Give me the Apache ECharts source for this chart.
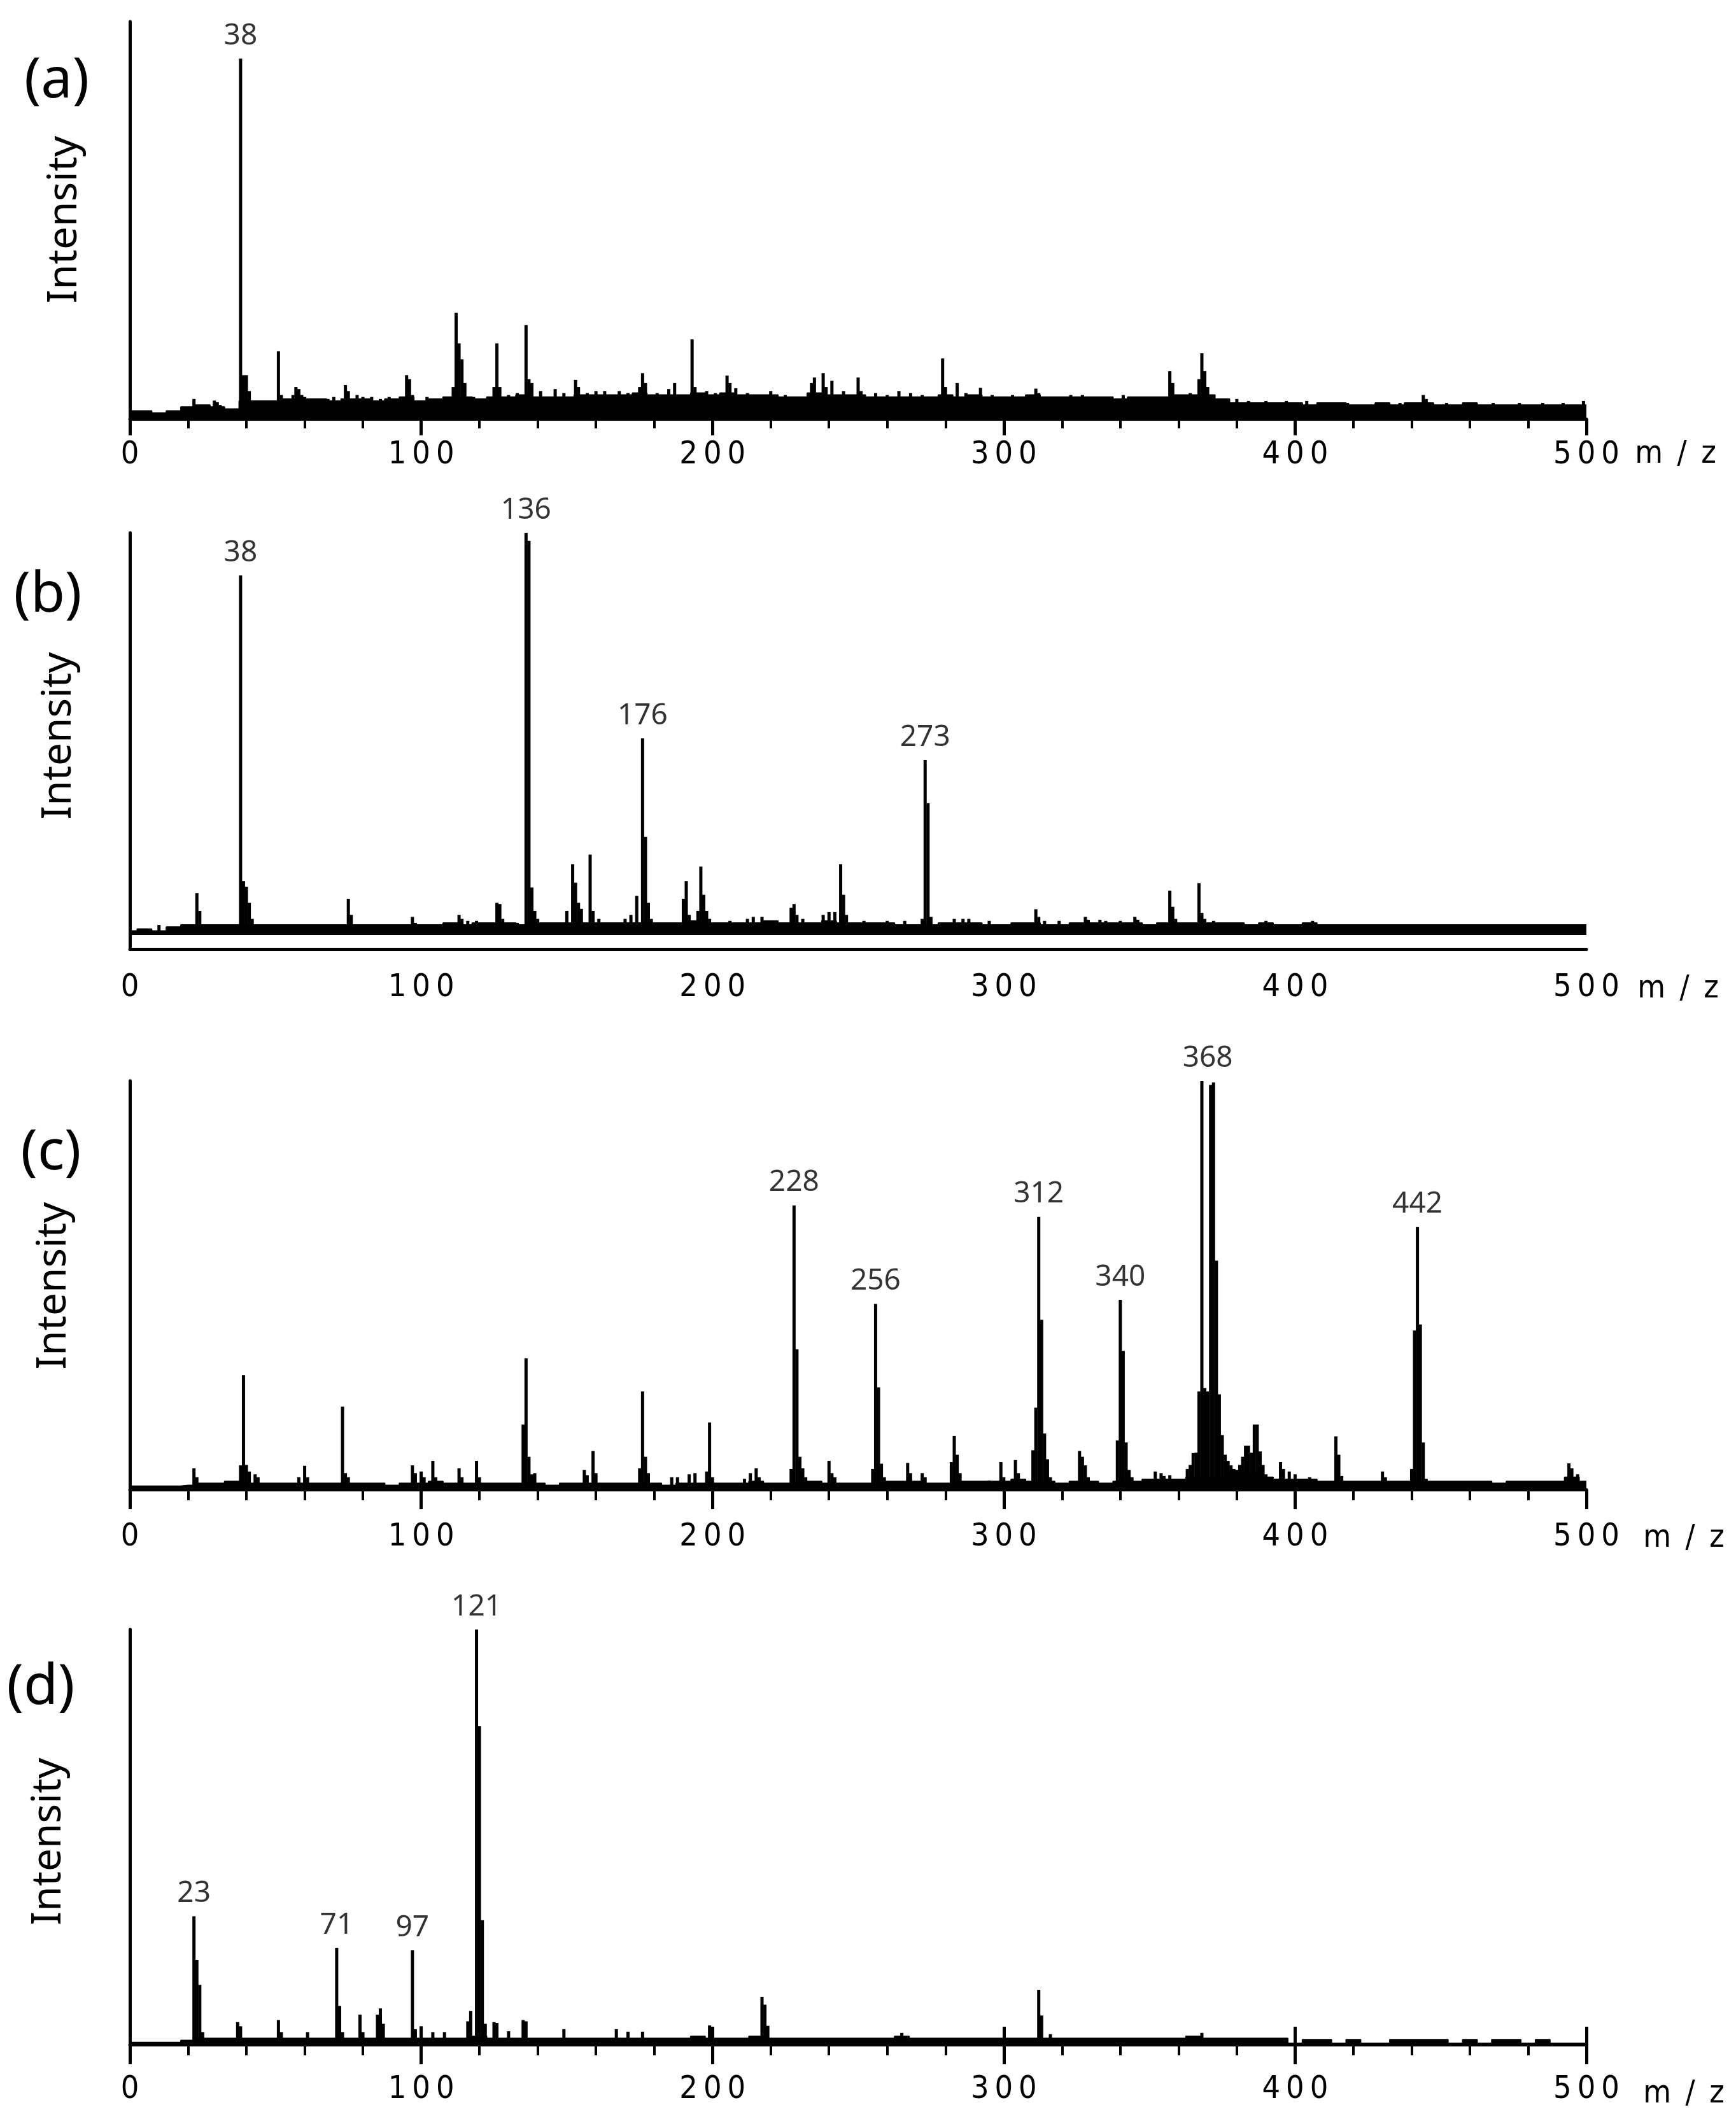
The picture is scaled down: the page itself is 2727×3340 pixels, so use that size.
<!DOCTYPE html>
<html>
<head>
<meta charset="utf-8">
<title>Mass spectra (a)-(d)</title>
<script src="https://cdn.jsdelivr.net/npm/echarts@6/dist/echarts.min.js"></script>
<style>
    html, body { margin: 0; padding: 0; background: #fff; }
    #chart { width: 2727px; height: 3340px; }
</style>
</head>
<body>
<div id="chart"></div>
<script>
// m/z axis
var mzMin = 0, mzMax = 500, mzStep = 100;
// baseline noise levels are read every 5 m/z
var noiseStep = 5;

// (a)
var peaksA = [
    [22, 5], [23, 3.5], [29, 4.6], [30, 4.2], [31, 3.5],
    [38, 90.7], [39, 11], [40, 11], [41, 7], [42, 4.5],
    [51, 17], [52, 6], [56, 6], [57, 8], [58, 7.5], [59, 6], [60, 5.5],
    [68, 5], [70, 5.5], [74, 8.5], [75, 7], [78, 6], [80, 5.5], [83, 5.5], [86, 5], [89, 5.5],
    [95, 11], [96, 10], [97, 6], [102, 5.5], [105, 5], [108, 5.5],
    [111, 8], [112, 26.7], [113, 19], [114, 15], [115, 9], [118, 5.5],
    [125, 8], [126, 19], [127, 8], [130, 6], [133, 6.5],
    [136, 23.6], [137, 10], [138, 9], [141, 7], [146, 7.5], [149, 6.5],
    [153, 9.8], [154, 8], [157, 6.5], [160, 7], [163, 7], [168, 7], [171, 6.5],
    [175, 8], [176, 11.5], [177, 9], [181, 6.5], [185, 7.5], [187, 9], [189, 6],
    [193, 20], [194, 8], [198, 7], [201, 6.5],
    [205, 10.9], [206, 9], [208, 7.7], [212, 6.5], [216, 6], [220, 7], [225, 6], [229, 5.5],
    [234, 9], [235, 10.4], [238, 11.5], [239, 8], [241, 9.6], [245, 7],
    [250, 10.4], [251, 7], [256, 6.5], [260, 6], [264, 7], [268, 6.5], [272, 6],
    [279, 15.2], [280, 8], [284, 9], [287, 6.5], [292, 7.8], [296, 6],
    [303, 6], [308, 6], [311, 7.6], [312, 6.5], [318, 5.5], [323, 6], [327, 6], [333, 5.5],
    [337, 5.5], [341, 6], [346, 5.5], [350, 5.5],
    [357, 12], [358, 9], [359, 6], [364, 6.5], [367, 10], [368, 16.5], [369, 12], [370, 8], [372, 6],
    [380, 5], [384, 4.5], [390, 4.5], [397, 4.5], [404, 4.5], [411, 4], [418, 4], [428, 4],
    [436, 4], [444, 6], [445, 5], [452, 4], [460, 4], [468, 4], [477, 4], [485, 4], [492, 4], [499, 4.5]
];
var noiseA = [
    2, 2, 1.5, 2, 3, 3.5, 3, 2.5, 4.5, 4.5,
    4.5, 5, 5, 5, 4.5, 5, 5, 4.5, 5, 5.5,
    4.5, 5, 5.5, 5.5, 5, 5.5, 5.5, 6, 5.5, 5.5,
    5.5, 6, 6, 6, 6, 6.5, 6, 6, 6, 6.5,
    6, 6.5, 6, 6, 6, 5.5, 5.5, 6.5, 6, 6,
    6, 5.5, 5.5, 5.5, 5.5, 5.5, 6, 5.5, 6, 5.5,
    5.5, 5.5, 6, 5.5, 5.5, 5.5, 5.5, 5.5, 5, 5.5,
    5.5, 5.5, 6, 6, 6, 5, 4, 4, 4, 4,
    4, 3.5, 4, 4, 3.5, 3.5, 4, 3.5, 4, 4,
    3.5, 3.5, 4, 3.5, 3.5, 3.5, 3.5, 3.5, 3.5, 3.5,
    3.5
];
var labelsA = [[38, 90.7, "38"]];

// (b)
var peaksB = [
    [10, 2.5], [23, 10.4], [24, 6], [38, 89.4], [39, 13.4], [40, 12], [41, 8], [42, 4],
    [75, 9], [76, 5], [97, 4.5], [98, 3], [113, 5], [114, 4], [116, 3.5], [119, 3.5],
    [126, 8], [127, 7.7], [128, 4], [133, 3],
    [136, 100], [137, 98], [138, 11.8], [139, 6], [140, 4],
    [150, 6], [152, 17.6], [153, 13], [154, 8], [155, 6.5], [158, 20], [159, 6], [161, 4],
    [170, 4], [172, 5], [174, 9.7], [176, 48.9], [177, 24.4], [178, 8], [179, 4],
    [190, 9], [191, 13.4], [192, 5], [195, 6], [196, 17], [197, 10], [198, 6], [199, 4],
    [206, 3.5], [212, 4], [214, 4.5], [217, 4.5], [227, 6.8], [228, 7.7], [229, 5], [231, 4],
    [238, 5], [240, 5.7], [242, 5.7], [244, 17.6], [245, 10], [246, 5], [252, 3.5], [260, 3.5], [266, 3.5],
    [272, 4], [273, 43.5], [274, 32.8], [275, 4.5], [283, 4], [286, 4], [288, 4], [295, 3.5],
    [311, 6.4], [312, 4.5], [314, 3.5], [319, 3.5], [328, 4.5], [329, 3.8], [333, 3.8], [335, 3.5],
    [340, 3.5], [345, 4.5], [346, 3.8],
    [357, 11], [358, 7], [359, 4], [367, 12.9], [368, 5.5], [369, 4], [372, 3.5], [390, 3.5], [406, 3.5]
];
var noiseB = [
    1, 1.5, 1, 2, 2.5, 2.5, 2.5, 2.5, 2.5, 2.5,
    2.5, 2.5, 2.5, 2.5, 2.5, 2.5, 2.5, 2.5, 2.5, 2.5,
    2.5, 2.5, 3, 2.5, 3, 3, 3, 2.5, 3, 3,
    3, 3, 3, 3, 3, 3, 3, 3, 3, 3.5,
    3, 3, 3, 3, 3.5, 3, 3, 3, 3.5, 3,
    3, 3, 3, 2.5, 2.5, 2.5, 3, 3, 3, 2.5,
    2.5, 3, 3, 2.5, 2.5, 3, 3, 3, 3, 3,
    2.5, 3, 3, 3, 3, 3, 3, 2.5, 3, 2.5,
    2.5, 3, 2.5, 2.5, 2.5, 2.5, 2.5, 2.5, 2.5, 2.5,
    2.5, 2.5, 2.5, 2.5, 2.5, 2.5, 2.5, 2.5, 2.5, 2.5,
    2.5
];
var labelsB = [[38, 89.4, "38"], [136, 100, "136"], [176, 48.9, "176"], [273, 43.5, "273"]];

// (c)
var peaksC = [
    [22, 5.2], [23, 3], [38, 5.9], [39, 28], [40, 6], [41, 4.4], [43, 3.7], [44, 3],
    [58, 3], [60, 5.8], [61, 3], [73, 20.3], [74, 4], [75, 3],
    [97, 5.9], [98, 4], [100, 4.4], [101, 3], [104, 7], [105, 3], [113, 5.2], [114, 3], [119, 7], [120, 3],
    [135, 15.9], [136, 32.1], [137, 8], [138, 3.7], [139, 4],
    [156, 4.8], [157, 3.5], [159, 9.4], [160, 4], [175, 5.2], [176, 24], [177, 8], [178, 4],
    [186, 3], [188, 3], [192, 3.7], [194, 4], [198, 4.4], [199, 16.4], [200, 3],
    [211, 2.6], [213, 4], [215, 5.2], [216, 3],
    [227, 5], [228, 69.5], [229, 34.3], [230, 8], [231, 5.2], [232, 3], [240, 7], [241, 4], [242, 3],
    [255, 5], [256, 45.4], [257, 25], [258, 6.3], [259, 3], [267, 6.5], [268, 4], [272, 4], [273, 3],
    [282, 6.7], [283, 13.1], [284, 8.5], [285, 4], [295, 2.2], [299, 6.7], [300, 3], [304, 7.2], [305, 4],
    [310, 9.6], [311, 20], [312, 66.7], [313, 41.5], [314, 13.7], [315, 7.4], [316, 3],
    [326, 9.4], [327, 8], [328, 5.9], [329, 3],
    [339, 12], [340, 46.4], [341, 33.9], [342, 11.5], [343, 4.8], [344, 3],
    [352, 4.4], [354, 4], [355, 3.3], [357, 3.5], [363, 5], [364, 6], [365, 8.9],
    [366, 9], [367, 24], [368, 100], [369, 24.8], [370, 24], [371, 99], [372, 99.6], [373, 56],
    [374, 23.3], [375, 13.3], [376, 8.5], [377, 7], [378, 5.9], [379, 5], [380, 4.8],
    [381, 6], [382, 8], [383, 10.7], [384, 10.7], [385, 9], [386, 15.9], [387, 15.9], [388, 9.3],
    [389, 6], [390, 3.7], [392, 3], [393, 2.6], [395, 6.7], [396, 5], [398, 4.4], [400, 3.7], [405, 3],
    [414, 13], [415, 8.5], [416, 3.3], [430, 4.4], [431, 3],
    [440, 5], [441, 38.9], [442, 64.2], [443, 40.4], [444, 11.5], [445, 2.6],
    [494, 6.4], [495, 5.2], [497, 3.7]
];
var noiseC = [
    0.8, 0.8, 0.8, 0.8, 1, 1.5, 1.5, 2, 1.5, 1.5,
    1.5, 1.5, 1.5, 1.5, 1.5, 1.5, 1.5, 1.5, 1, 1.5,
    1.5, 2, 1.5, 1.5, 1.5, 1.5, 1.5, 1.5, 1.5, 1,
    1.5, 1.5, 1.5, 1.5, 1.5, 1.5, 1.5, 1, 1.5, 1.5,
    1.5, 1.5, 1.5, 2, 1.5, 1.5, 1.5, 2, 1.5, 1.5,
    1.5, 1.5, 2, 2, 2, 1.5, 1.5, 2, 2, 2,
    2, 2.5, 2, 2, 1.5, 2, 2, 1.5, 2, 2,
    2.5, 2.5, 2.5, 3, 3, 3, 4.5, 4, 3, 2.5,
    2.5, 2.5, 2, 2, 2, 2, 2, 2, 2, 2,
    2, 2, 2, 2, 1.5, 2, 2, 2, 2, 3,
    2
];
var labelsC = [[228, 69.5, "228"], [256, 45.4, "256"], [312, 66.7, "312"], [340, 46.4, "340"], [370, 100, "368"], [442, 64.2, "442"]];

// (d)
var peaksD = [
    [22, 30.9], [23, 20.4], [24, 14.4], [25, 3], [37, 5.4], [38, 4.4], [51, 5.9], [52, 3], [61, 3],
    [71, 23.3], [72, 9.3], [73, 3], [79, 7.2], [80, 3], [85, 7.2], [86, 8.7], [87, 5],
    [97, 22.7], [98, 3.7], [100, 4.4], [104, 3], [108, 3],
    [116, 5.6], [117, 8.1], [119, 100], [120, 76.7], [121, 30], [122, 5],
    [125, 5.4], [126, 5.2], [130, 3.2], [135, 5.9], [136, 5.6], [149, 3.7],
    [167, 3.7], [171, 3.1], [176, 3.1], [199, 4.6], [217, 11.5], [218, 9.6], [219, 4.5],
    [265, 2.8], [312, 13.2], [313, 7], [316, 2.5], [368, 2.8]
];
var noiseD = [
    0.5, 0.5, 0.5, 0.5, 1, 1.5, 1.5, 1.5, 1.5, 1.5,
    1.5, 1.5, 1.5, 1.5, 1.5, 1.5, 1.5, 1.5, 1.5, 1.5,
    1.5, 1.5, 1.5, 1.5, 2, 1.5, 1.5, 1.5, 1.5, 1.5,
    1.5, 1.5, 1.5, 1.5, 1.5, 1.5, 1.5, 1.5, 1.5, 2,
    1.5, 1.5, 1.5, 2, 1.5, 1.5, 1.5, 1.5, 1.5, 1.5,
    1.5, 1.5, 1.5, 2, 1.5, 1.5, 1.5, 1.5, 1.5, 1.5,
    1.5, 1.5, 1.5, 1.5, 1.5, 1.5, 1.5, 1.5, 1.5, 1.5,
    1.5, 1.5, 1.5, 2, 1.5, 1.5, 1.5, 1.5, 1.5, 1.5,
    0.3, 1.2, 1.2, 0.3, 1.2, 0.3, 0.3, 1.2, 1.2, 1.2,
    1.2, 0.3, 1.2, 0.3, 1.2, 1.2, 0.3, 1.2, 0.3, 0.3,
    0.3
];
var labelsD = [[22, 30.9, "23"], [71, 23.3, "71"], [97, 22.7, "97"], [119, 100, "121"]];

var panelNames = ["(a)", "(b)", "(c)", "(d)"];

/* layout of the four panels, in page pixels */
var panels = [
    { top: 34,   height: 624, yMin: 0,    ticks: true,  major: 26, minor: 15, margin: 32, cross: false,
      name: [89, 128], inten: [102, 345], unit: [2632, 714] },
    { top: 837,  height: 654, yMin: -3.5, ticks: false, major: 0,  minor: 0,  margin: 36, cross: false,
      name: [75, 936], inten: [93, 1156], unit: [2636, 1554] },
    { top: 1698, height: 642, yMin: 0,    ticks: true,  major: 31, minor: 17, margin: 50, cross: false,
      name: [80, 1812], inten: [85, 2020], unit: [2645, 2417] },
    { top: 2560, height: 652, yMin: 0,    ticks: true,  major: 31, minor: 17, margin: 46, cross: true,
      name: [64, 2652], inten: [77, 2893], unit: [2645, 3290] }
];

var allPeaks = [peaksA, peaksB, peaksC, peaksD];
var allNoise = [noiseA, noiseB, noiseC, noiseD];
var allLabels = [labelsA, labelsB, labelsC, labelsD];

var tickFont = "'Liberation Sans Narrow', 'DejaVu Sans Condensed', 'Liberation Sans', sans-serif";
var textFont = "'Noto Sans', 'Open Sans', sans-serif";

function spaced(v) {
    return String(v).split("").join("\u2009");
}

function buildOption() {
    var grids = [], xAxes = [], yAxes = [], series = [], graphics = [];

    panels.forEach(function (p, i) {
        grids.push({ left: 204, width: 2288, top: p.top, height: p.height, containLabel: false });

        xAxes.push({
            type: "value", gridIndex: i, min: mzMin, max: mzMax, interval: mzStep,
            position: "bottom", z: 10,
            axisLine: { show: true, onZero: false, lineStyle: { color: "#000", width: 5 } },
            axisTick: { show: p.ticks, inside: false, length: p.major, lineStyle: { color: "#000", width: 5 } },
            minorTick: { show: p.ticks, splitNumber: 5, length: p.minor, lineStyle: { color: "#000", width: 4 } },
            splitLine: { show: false },
            minorSplitLine: { show: false },
            axisLabel: {
                show: true, margin: p.margin, color: "#000",
                fontFamily: tickFont, fontSize: 50,
                formatter: spaced
            }
        });

        yAxes.push({
            type: "value", gridIndex: i, min: p.yMin, max: 100,
            axisLine: { show: true, onZero: false, lineStyle: { color: "#000", width: 5 } },
            axisTick: { show: false },
            axisLabel: { show: false },
            splitLine: { show: false }
        });

        var noiseData = allNoise[i].map(function (v, k) {
            return [k * noiseStep, v];
        });

        series.push({
            type: "line", xAxisIndex: i, yAxisIndex: i,
            data: noiseData, step: "middle", symbol: "none",
            lineStyle: { color: "#000", width: 2 },
            areaStyle: { color: "#000", opacity: 1 },
            silent: true, z: 2
        });

        series.push({
            type: "bar", xAxisIndex: i, yAxisIndex: i,
            data: allPeaks[i], barWidth: 5,
            itemStyle: { color: "#000" },
            silent: true, z: 3
        });

        series.push({
            type: "scatter", xAxisIndex: i, yAxisIndex: i,
            data: allLabels[i], symbolSize: 1,
            itemStyle: { color: "rgba(0,0,0,0)" },
            label: {
                show: true, position: "top", distance: 12,
                color: "#000", fontFamily: textFont, fontSize: 46,
                formatter: function (d) { return d.value[2]; }
            },
            silent: true, z: 4
        });

        graphics.push({
            type: "text", x: p.name[0], y: p.name[1],
            style: { text: panelNames[i], font: "88px " + textFont, fill: "#000",
                textAlign: "center", textVerticalAlign: "middle" }
        });
        graphics.push({
            type: "text", x: p.inten[0], y: p.inten[1], rotation: Math.PI / 2,
            style: { text: "Intensity", font: "64px " + textFont, fill: "#000",
                textAlign: "center", textVerticalAlign: "middle" }
        });
        graphics.push({
            type: "text", x: p.unit[0], y: p.unit[1],
            style: { text: "m\u2002/\u2002z", font: "50px " + tickFont, fill: "#000",
                textAlign: "center", textVerticalAlign: "middle" }
        });
    });

    // (d): major ticks also cross above the axis line
    panels.forEach(function (p, i) {
        if (!p.cross) return;
        xAxes.push({
            type: "value", gridIndex: i, min: mzMin, max: mzMax, interval: mzStep,
            position: "bottom", z: 10,
            axisLine: { show: false, onZero: false },
            axisTick: { show: true, inside: true, length: 28, lineStyle: { color: "#000", width: 5 } },
            minorTick: { show: false },
            splitLine: { show: false },
            axisLabel: { show: false }
        });
    });

    return {
        backgroundColor: "#fff",
        animation: false,
        grid: grids,
        xAxis: xAxes,
        yAxis: yAxes,
        series: series,
        graphic: graphics
    };
}

var chart = echarts.init(document.getElementById("chart"));
chart.setOption(buildOption());
</script>
</body>
</html>
